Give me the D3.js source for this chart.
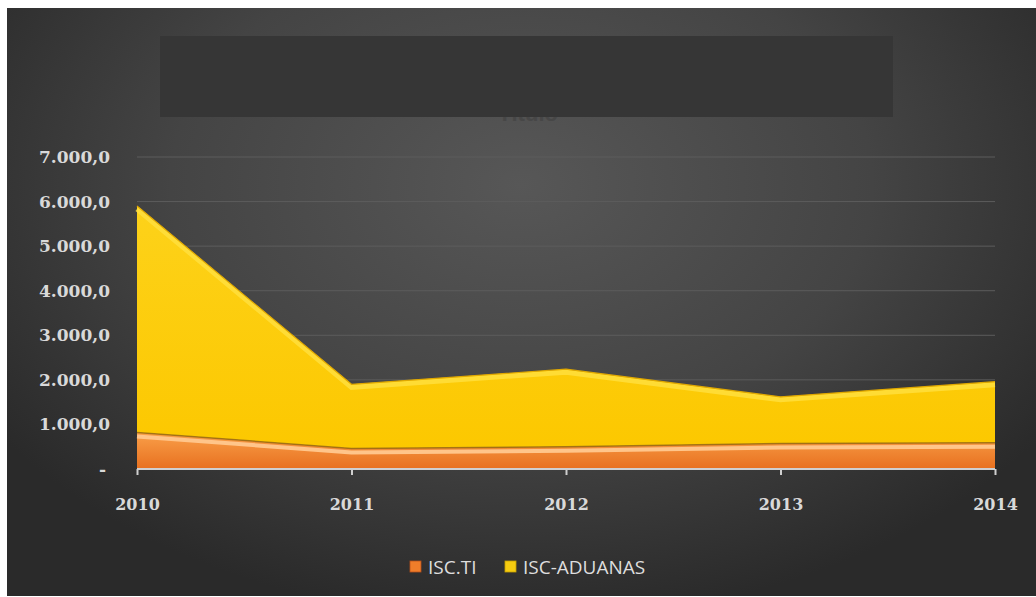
<!DOCTYPE html>
<html><head><meta charset="utf-8">
<script src="https://cdn.jsdelivr.net/npm/d3@7"></script>
<style>body{margin:0;background:#fff}svg{display:block}</style>
</head><body>
<script>
const years = ["2010","2011","2012","2013","2014"];
const iscTI = [820, 460, 500, 570, 590];
const iscAduanas = [5080, 1440, 1740, 1050, 1370];
const yTicks = [0,1000,2000,3000,4000,5000,6000,7000];
const seriesNames = ["ISC.TI","ISC-ADUANAS"];

const W=1036,H=597;
const svg=d3.select("body").append("svg").attr("width",W).attr("height",H);
const defs=svg.append("defs");
const bg=defs.append("radialGradient").attr("id","bg").attr("cx","0.5").attr("cy","0.3").attr("r","0.62")
  .attr("gradientTransform","translate(0.5,0.3) scale(1,1.2) translate(-0.5,-0.3)");
bg.append("stop").attr("offset","0").attr("stop-color","#575757");
bg.append("stop").attr("offset","0.55").attr("stop-color","#444");
bg.append("stop").attr("offset","1").attr("stop-color","#2a2a2a");
const og=defs.append("linearGradient").attr("id","og").attr("x1",0).attr("y1",0).attr("x2",0).attr("y2",1);
og.append("stop").attr("offset","0").attr("stop-color","#f9a04a");
og.append("stop").attr("offset","1").attr("stop-color","#e8701f");
const yg=defs.append("linearGradient").attr("id","yg").attr("x1",0).attr("y1",0).attr("x2",0).attr("y2",1);
yg.append("stop").attr("offset","0").attr("stop-color","#fdd21a");
yg.append("stop").attr("offset","1").attr("stop-color","#fcc800");

svg.append("rect").attr("x",7).attr("y",8).attr("width",W-7).attr("height",H-9).attr("fill","url(#bg)");

// title (mostly hidden)
svg.append("text").attr("x",528).attr("y",121).attr("text-anchor","middle")
  .attr("font-family","Liberation Sans, Arial").attr("font-weight","bold").attr("font-size",22)
  .attr("fill","#474747").text("Título");
svg.append("rect").attr("x",160).attr("y",36).attr("width",733).attr("height",81).attr("fill","#363636");

const x=d3.scalePoint().domain(years).range([137,995]);
const y=d3.scaleLinear().domain([0,7000]).range([469,157]);

// gridlines
svg.append("g").selectAll("line").data(yTicks.slice(1)).join("line")
  .attr("x1",137).attr("x2",995).attr("y1",d=>y(d)).attr("y2",d=>y(d))
  .attr("stroke","#5c5c5c").attr("stroke-width",1);

const data=years.map((yr,i)=>({year:yr,ti:iscTI[i],ad:iscAduanas[i]}));
const stack=d3.stack().keys(["ti","ad"])(data);
const area=d3.area().x(d=>x(d.data.year)).y0(d=>y(d[0])).y1(d=>y(d[1]));
const topLine=d3.line().x(d=>x(d.data.year)).y(d=>y(d[1]));

// yellow
svg.append("path").datum(stack[1]).attr("d",area).attr("fill","url(#yg)");
svg.append("path").datum(stack[1]).attr("d",topLine).attr("fill","none")
  .attr("stroke","#ffe040").attr("stroke-width",5).attr("transform","translate(0,3)").attr("opacity",0.8);
svg.append("path").datum(stack[1]).attr("d",topLine).attr("fill","none")
  .attr("stroke","#e0a800").attr("stroke-width",1.2);
// orange
svg.append("path").datum(stack[0]).attr("d",area).attr("fill","url(#og)");
svg.append("path").datum(stack[0]).attr("d",topLine).attr("fill","none")
  .attr("stroke","#ffc58a").attr("stroke-width",4).attr("transform","translate(0,4)");
svg.append("path").datum(stack[0]).attr("d",topLine).attr("fill","none")
  .attr("stroke","#9a6a10").attr("stroke-width",1.5).attr("opacity",0.8);

// x axis
const xa=svg.append("g").attr("transform","translate(0,469)")
  .call(d3.axisBottom(x).tickSize(6).tickPadding(24));
xa.select(".domain").attr("stroke","#cfcfcf").attr("stroke-width",2).attr("d","M137,0H995");
xa.selectAll(".tick line").attr("stroke","#cfcfcf").attr("stroke-width",2);
xa.selectAll("text").attr("fill","#d9d9d9").attr("font-family","DejaVu Serif, serif")
  .attr("font-weight","bold").attr("font-size",16);

// y labels
const fmt=v=>v===0?"-":d3.format(",.1f")(v).replace(/,/g,"#").replace(".",",").replace(/#/g,".");
svg.append("g").selectAll("text").data(yTicks).join("text")
  .attr("x",d=>d===0?106:110).attr("y",d=>y(d)+6).attr("text-anchor","end")
  .attr("fill","#d9d9d9").attr("font-family","DejaVu Serif, serif").attr("font-weight","bold")
  .attr("font-size",17).text(fmt);

// legend
const lx=[410,505];
const lg=svg.append("g");
seriesNames.forEach((n,i)=>{
  lg.append("rect").attr("x",lx[i]).attr("y",561).attr("width",11).attr("height",11)
    .attr("fill",i===0?"#f07d2a":"#f6cc10").attr("stroke",i===0?"#b8501a":"#c8a000").attr("stroke-width",0.8);
  lg.append("text").attr("x",lx[i]+18).attr("y",574).attr("fill","#dedede")
    .attr("font-family","Open Sans, Liberation Sans, sans-serif").attr("font-size",19).text(n);
});
</script>
</body></html>
